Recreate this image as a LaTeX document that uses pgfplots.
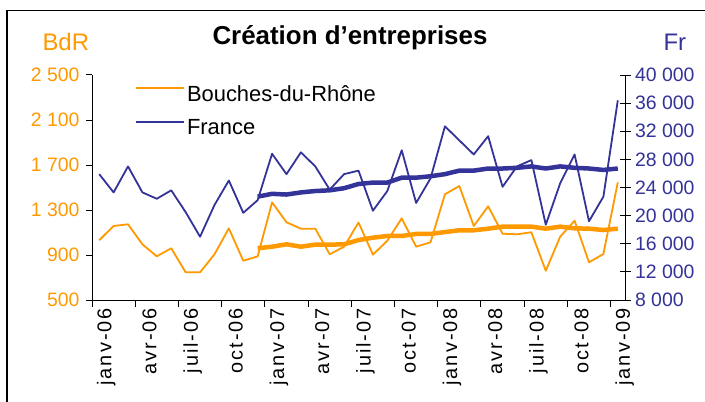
\documentclass[border=0pt]{standalone}
\usepackage{fontspec}
\setmainfont{Liberation Sans}
\usepackage{pgfplots}
\pgfplotsset{compat=1.18}
\definecolor{cOr}{RGB}{255,153,0}
\definecolor{cBl}{RGB}{51,51,153}
\newcommand{\tickfont}{\fontsize{19.5}{22}\selectfont}
\newcommand{\xtickfont}{\fontsize{20}{22}\selectfont\addfontfeature{LetterSpace=10}}
\begin{document}
\begin{tikzpicture}[x=1bp,y=1bp]
\useasboundingbox (0,0) rectangle (705,401);
\fill[white] (0,0) rectangle (705,401);
\draw[line width=1.3bp] (7,-5) -- (7,390.5) -- (712,390.5);
\node[font=\fontsize{26}{28}\selectfont\bfseries, anchor=base] at (350,357) {Création d’entreprises};
\node[font=\fontsize{24}{28}\selectfont, text=cOr, anchor=base west] at (39,351) {BdR};
\node[font=\fontsize{24}{28}\selectfont, text=cBl, anchor=base west] at (660,351) {Fr};

\begin{axis}[at={(92bp,101bp)}, anchor=south west, scale only axis,
  width=533bp, height=225bp,
  xmin=-0.5, xmax=36.5, ymin=500, ymax=2500,
  axis y line*=left, axis x line*=bottom,
  axis line style={black, line width=1bp},
  tick style={black, line width=1bp},
  xtick={0,3,...,36},
  xticklabels={janv-06,avr-06,juil-06,oct-06,janv-07,avr-07,juil-07,oct-07,janv-08,avr-08,juil-08,oct-08,janv-09},
  major x tick style={draw=none},
  minor xtick={-0.5,2.5,...,35.5},
  tick align=outside, major tick length=6bp, minor tick length=7bp,
  xticklabel style={rotate=90, anchor=east, font=\xtickfont, inner sep=2bp, yshift=-7bp},
  ytick={500,900,1300,1700,2100,2500},
  yticklabels={500,900,1 300,1 700,2 100,2 500},
  yticklabel style={text=cOr, font=\tickfont, xshift=-3bp},
  scaled y ticks=false,
  clip=false,
]
\addplot[cOr, line width=1.8bp, line join=round] coordinates {
(0,1031) (1,1158) (2,1173) (3,995) (4,888) (5,960) (6,746) (7,746) (8,906) (9,1137)
(10,849) (11,888) (12,1368) (13,1191) (14,1134) (15,1134) (16,907) (17,974) (18,1189) (19,903)
(20,1027) (21,1226) (22,974) (23,1013) (24,1440) (25,1513) (26,1158) (27,1333) (28,1089) (29,1084)
(30,1102) (31,760) (32,1063) (33,1205) (34,835) (35,909) (36,1546)};
\addplot[cOr, line width=4.5bp, line join=round] coordinates {
(11,960) (12,974) (13,995) (14,974) (15,992) (16,992) (17,995) (18,1033) (19,1054) (20,1069)
(21,1069) (22,1087) (23,1087) (24,1104) (25,1120) (26,1120) (27,1134) (28,1152) (29,1152) (30,1152)
(31,1134) (32,1152) (33,1137) (34,1134) (35,1122) (36,1134)};
\end{axis}

\begin{axis}[at={(92bp,101bp)}, anchor=south west, scale only axis,
  width=533bp, height=225bp,
  xmin=-0.5, xmax=36.5, ymin=8000, ymax=40000,
  axis y line*=right, axis x line=none,
  axis line style={black, line width=1bp},
  tick style={black, line width=1bp},
  xtick=\empty,
  tick align=center, major tick length=11bp,
  ytick={8000,12000,...,40000},
  yticklabels={8 000,12 000,16 000,20 000,24 000,28 000,32 000,36 000,40 000},
  yticklabel style={text=cBl, font=\tickfont, xshift=1bp},
  scaled y ticks=false,
  legend image code/.code={\draw[#1] (0bp,6bp) -- (48bp,6bp);},
  legend style={at={(axis description cs:0.0807,0.965)}, anchor=north west,
    draw=none, fill=none, font=\fontsize{22}{24}\selectfont,
    row sep=13bp, inner sep=0pt},
  legend cell align=left,
  clip=false,
]
\addlegendimage{cOr, line width=1.8bp}
\addlegendentry{Bouches-du-Rhône}
\addplot[cBl, line width=1.8bp, line join=round] coordinates {
(0,25900) (1,23300) (2,27000) (3,23300) (4,22400) (5,23600) (6,20500) (7,17000) (8,21500) (9,25000)
(10,20400) (11,22200) (12,28800) (13,25900) (14,29000) (15,27000) (16,23700) (17,25900) (18,26400) (19,20700)
(20,23500) (21,29300) (22,21800) (23,25300) (24,32700) (25,30700) (26,28700) (27,31300) (28,24100) (29,27000)
(30,27900) (31,18700) (32,24600) (33,28700) (34,19200) (35,22700) (36,36400)};
\addlegendentry{France}
\addplot[cBl, line width=4.5bp, line join=round, forget plot] coordinates {
(11,22700) (12,23100) (13,23000) (14,23300) (15,23500) (16,23600) (17,23900) (18,24500) (19,24700) (20,24700)
(21,25400) (22,25400) (23,25600) (24,25900) (25,26400) (26,26400) (27,26700) (28,26700) (29,26800) (30,27000)
(31,26700) (32,27000) (33,26800) (34,26700) (35,26500) (36,26700)};
\end{axis}
\end{tikzpicture}
\end{document}
